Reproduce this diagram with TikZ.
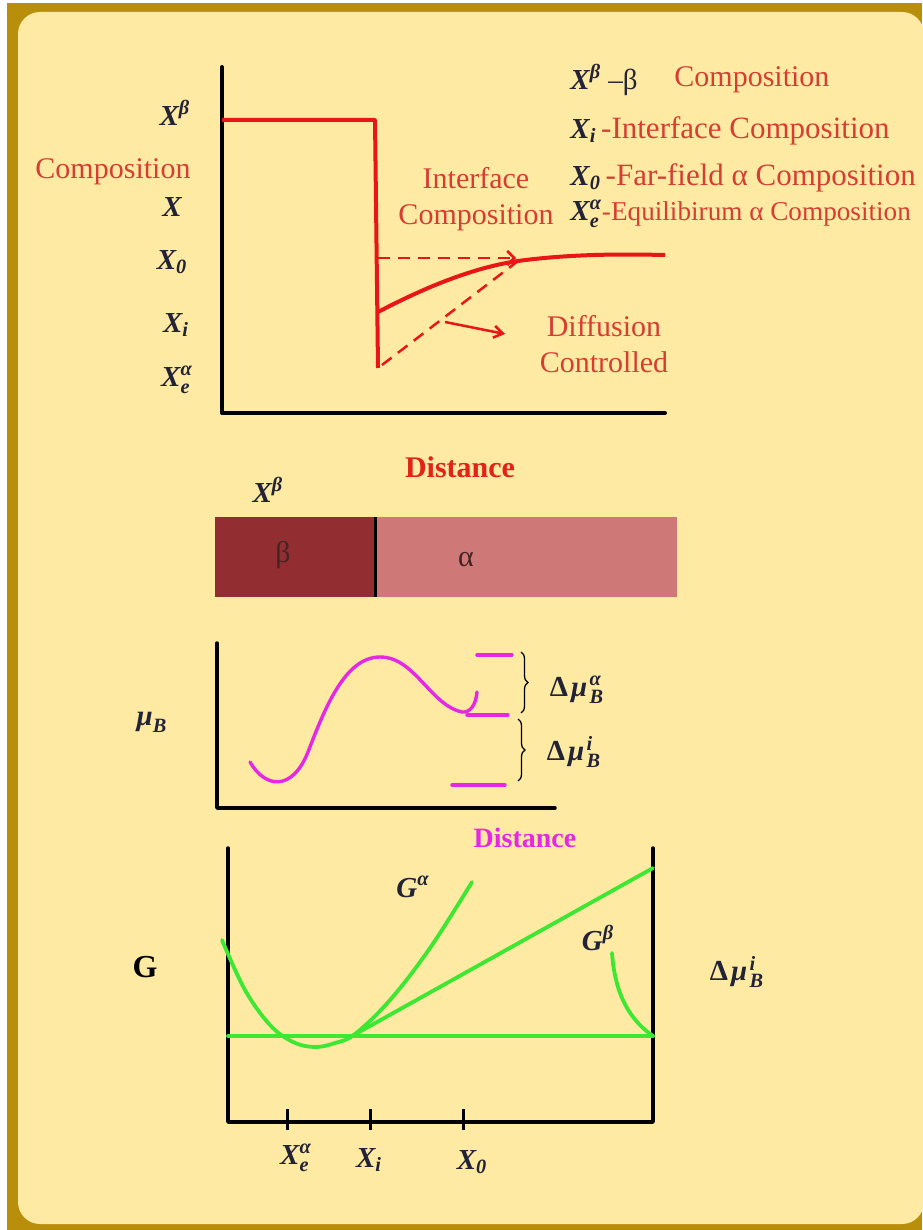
\documentclass[tikz,border=0pt]{standalone}
\usepackage{amsmath}
\usepackage{fontspec}
\setmainfont{Liberation Serif}
\newcommand{\bi}[1]{\text{\bfseries\itshape #1}}
\newcommand{\dmu}[1]{\text{\bfseries Δ}\mkern2mu{\bi{μ}\mkern1.5mu}_{\bi{B}}^{\bi{#1}}}
\definecolor{frameGold}{RGB}{184,142,10}
\definecolor{paper}{RGB}{254,234,162}
\definecolor{lineRed}{RGB}{232,22,22}
\definecolor{textRed}{RGB}{214,62,52}
\definecolor{distRed}{RGB}{225,35,25}
\definecolor{magentaB}{RGB}{228,40,228}
\definecolor{greenG}{RGB}{60,232,50}
\definecolor{inkX}{RGB}{35,35,55}
\definecolor{betaDark}{RGB}{146,46,50}
\definecolor{alphaLight}{RGB}{207,120,120}
\definecolor{phaseInk}{RGB}{70,35,35}
\usetikzlibrary{arrows.meta, decorations.pathreplacing}

\begin{document}
\begin{tikzpicture}[x=0.5pt, y=-0.5pt,
    txt/.style={font=\fontsize{15}{18}\selectfont, inner sep=1pt},
    red txt/.style={txt, text=textRed},
    sym/.style={font=\fontsize{14.5}{17}\selectfont, text=inkX, inner sep=1pt},
    axis/.style={line width=2pt, line cap=round, line join=round},
    redline/.style={lineRed, line width=2pt, line join=round},
    reddash/.style={lineRed, line width=1.25pt, dash pattern=on 6pt off 4pt},
    magline/.style={magentaB, line width=1.7pt, line cap=round},
    greenline/.style={greenG, line width=1.9pt, line cap=round}]

    % frame and paper
    \useasboundingbox (0,0) rectangle (922,1230);
    \fill[white] (0,0) rectangle (922,1230);
    \fill[frameGold] (7,3) rectangle (922,1230);
    \fill[paper, rounded corners=11pt] (18,12) rectangle (924,1224);

    % composition profile
    \coordinate (cTop) at (222,67);
    \coordinate (cEnd) at (665,413);
    \draw[axis] (cTop) |- (cEnd);

    \coordinate (stepA) at (222,120);
    \coordinate (stepB) at (375,120);
    \coordinate (stepC) at (378,368);
    \draw[redline] (stepA) -- (stepB) -- (stepC);

    \coordinate (ifaceX) at (378,312);
    \coordinate (meet) at (518,261);
    \coordinate (farEnd) at (665,255);
    \draw[redline] (ifaceX) .. controls (420,290) and (470,268) .. (meet)
        .. controls (570,254) and (620,254) .. (farEnd);

    \coordinate (zeroA) at (378,258);
    \coordinate (zeroB) at (516,258);
    \draw[reddash, -{Straight Barb[length=3.5pt]}] (zeroA) -- (zeroB);
    \coordinate (diffA) at (382,365);
    \draw[reddash] (diffA) -- (meet);

    \coordinate (arrS) at (445,322);
    \coordinate (arrE) at (505,334);
    \draw[lineRed, line width=1.25pt, -{Straight Barb[length=4.5pt, width=6pt]}] (arrS) -- (arrE);

    % axis labels
    \node[red txt] (compLbl) at (113,172) {Composition};
    \node[sym] (xBeta) at (175,113) {$\bi{X}^{\bi{β}}$};
    \node[sym] (xPlain) at (172,207) {$\bi{X}$};
    \node[sym] (xZero) at (172,262) {$\bi{X}_{\bi{0}}$};
    \node[sym] (xI) at (176,325) {$\bi{X}_{\bi{i}}$};
    \node[sym] (xEq) at (177,380) {$\bi{X}_{\bi{e}}^{\bi{α}}$};

    \node[red txt, align=center] (ifaceLbl) at (476,199) {Interface\\Composition};
    \node[red txt, align=center] (diffLbl) at (604,344) {Diffusion\\Controlled};

    % legend
    \node[sym, anchor=west] (legBeta) at (568,80) {$\bi{X}^{\bi{β}}$ –β};
    \node[red txt, anchor=west] (legComp) at (672,80) {Composition};
    \node[sym, anchor=west] (legI) at (568,131)
        {$\bi{X}_{\bi{i}}$\,\textcolor{textRed}{\fontsize{15.5}{18}\selectfont -Interface Composition}};
    \node[sym, anchor=west] (legZero) at (568,178)
        {$\bi{X}_{\bi{0}}$\,\textcolor{textRed}{\fontsize{15.5}{18}\selectfont -Far-field α Composition}};
    \node[sym, anchor=west] (legEq) at (568,214)
        {$\bi{X}_{\bi{e}}^{\bi{α}}$\textcolor{textRed}{\fontsize{13.6}{15}\selectfont -Equilibirum α Composition}};

    \node[font=\fontsize{15}{18}\selectfont\bfseries, text=distRed] (distA) at (460,467) {Distance};

    % phase bar
    \node[sym] (barX) at (268,490) {$\bi{X}^{\bi{β}}$};
    \coordinate (barL) at (215,517);
    \coordinate (barM) at (375,597);
    \coordinate (barMt) at (375,517);
    \coordinate (barR) at (677,597);
    \fill[betaDark] (barL) rectangle (barM);
    \fill[alphaLight] (barMt) rectangle (barR);
    \draw[line width=1.5pt] (barMt) -- (barM);
    \node[txt, text=phaseInk] (betaLbl) at (283,555) {β};
    \node[txt, text=phaseInk] (alphaLbl) at (466,560) {α};

    % chemical potential
    \coordinate (muTop) at (217,643);
    \coordinate (muEnd) at (555,808);
    \draw[axis, line width=1.75pt] (muTop) |- (muEnd);
    \draw[magline] (250,762) .. controls (265,788) and (292,792) .. (308,752)
        .. controls (325,708) and (345,657) .. (380,657)
        .. controls (415,657) and (430,705) .. (462,712)
        .. controls (470,713) and (476,705) .. (477,692);
    \draw[magline] (477,655) -- (512,655);
    \draw[magline] (467,715) -- (508,715);
    \draw[magline] (452,785) -- (505,785);
    \draw[decorate, decoration={brace, amplitude=3.5pt}, line width=0.65pt] (521,652) -- (521,713);
    \draw[decorate, decoration={brace, amplitude=3.5pt}, line width=0.65pt] (518,719) -- (518,781);
    \node[sym] (muLbl) at (152,722) {$\bi{μ}_{\bi{B}}$};
    \node[sym] (dMuA) at (577,690) {$\dmu{α}$};
    \node[sym] (dMuI) at (574,752) {$\dmu{i}$};
    \node[font=\fontsize{14}{17}\selectfont\bfseries, text=magentaB] (distB) at (525,838) {Distance};

    % free energy
    \coordinate (gTopL) at (228,848);
    \coordinate (gCorner) at (653,1122);
    \coordinate (gTopR) at (653,848);
    \draw[axis, line width=1.75pt] (gTopL) |- (gCorner) -- (gTopR);
    \foreach \tx in {287,370,463}
        \draw[line width=1.5pt] (\tx,1109) -- (\tx,1130);
    \node[sym] (tEq) at (296,1158) {$\bi{X}_{\bi{e}}^{\bi{α}}$};
    \node[sym] (tI) at (369,1160) {$\bi{X}_{\bi{i}}$};
    \node[sym] (tZero) at (472,1162) {$\bi{X}_{\bi{0}}$};

    \coordinate (baseL) at (228,1036);
    \coordinate (baseR) at (653,1036);
    \coordinate (touch) at (352,1036);
    \coordinate (tanEnd) at (653,868);
    \draw[greenline] (baseL) -- (baseR);
    \draw[greenline] (touch) -- (tanEnd);
    \draw[greenline] plot[smooth, tension=0.6] coordinates
        {(222,940) (245,990) (270,1025) (293,1042) (315,1047) (335,1043) (355,1034) (390,1000) (430,948) (472,882)};
    \draw[greenline] (612,953) .. controls (615,995) and (630,1020) .. (baseR);

    \node[font=\fontsize{16}{19}\selectfont\bfseries] (gLbl) at (145,967) {G};
    \node[sym] (gAlpha) at (413,887) {$\bi{G}^{\bi{α}}$};
    \node[sym] (gBeta) at (598,938) {$\bi{G}^{\bi{β}}$};
    \node[sym] (dMuG) at (737,972) {$\dmu{i}$};
\end{tikzpicture}
\end{document}
